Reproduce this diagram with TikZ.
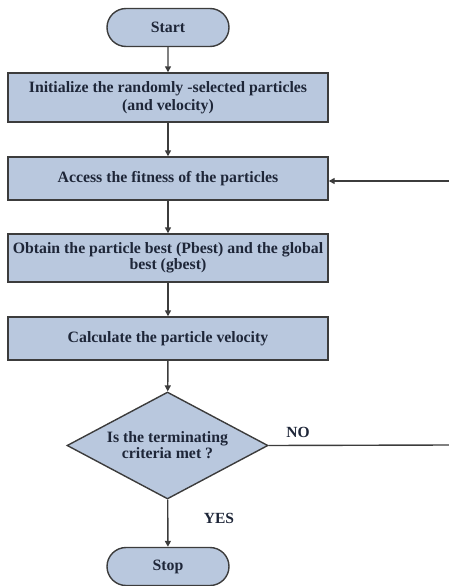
\documentclass[tikz,border=0pt]{standalone}
\usepackage{fontspec}
\setmainfont{Liberation Serif}
\usetikzlibrary{shapes.geometric,shapes.misc,arrows.meta}
\definecolor{boxfill}{RGB}{185,200,222}
\definecolor{boxline}{RGB}{60,60,60}
\definecolor{boxtext}{RGB}{30,38,56}
\tikzset{
  x=1pt, y=1pt,
  base/.style={draw=boxline, line width=1.4pt, fill=boxfill, text=boxtext,
    font=\bfseries\fontsize{15.8}{16}\selectfont, align=center, inner sep=1pt},
  terminal/.style={base, rounded rectangle, minimum width=124pt, minimum height=38pt},
  process/.style={base, rectangle, minimum width=320pt},
  decision/.style={base, diamond, minimum width=201pt, minimum height=107pt, aspect=1.88, inner sep=0pt},
  flow/.style={draw=boxline, line width=1.4pt, -{Triangle[length=6pt,width=6pt]}},
  plain/.style={draw=boxline, line width=1.4pt},
  tag/.style={text=boxtext, font=\bfseries\fontsize{15.5}{16}\selectfont}
}
\begin{document}
\begin{tikzpicture}
\useasboundingbox (0,0) rectangle (449,-586);
\node[terminal] (start) at (168,-27.5) {Start};
\node[process, minimum height=49pt] (init) at (168,-97.5)
  {Initialize the randomly -selected particles\\[1.5pt](and velocity)};
\node[process, minimum height=43pt] (fit) at (168,-178.5)
  {Access the fitness of the particles};
\node[process, minimum height=48pt] (best) at (168,-258)
  {Obtain the particle best (Pbest) and the global\\best (gbest)};
\node[process, minimum height=43pt] (vel) at (168,-338.5)
  {Calculate the particle velocity};
\node[decision] (test) at (167.5,-445.5) {Is the terminating\\criteria met ?};
\node[terminal] (stop) at (168,-566.5) {Stop};

\coordinate (noend) at (449,-445);
\coordinate (loopin) at (449,-181);

\draw[flow] (start) -- (init);
\draw[flow] (init) -- (fit);
\draw[flow] (fit) -- (best);
\draw[flow] (best) -- (vel);
\draw[flow] (vel) -- (test);
\draw[flow] (test) -- (stop);
\draw[plain] (test.east) -- (noend);
\draw[flow] (loopin) -- (fit.east |- loopin);

\node[tag] (no) at (298,-432) {NO};
\node[tag] (yes) at (219,-518) {YES};
\end{tikzpicture}
\end{document}
